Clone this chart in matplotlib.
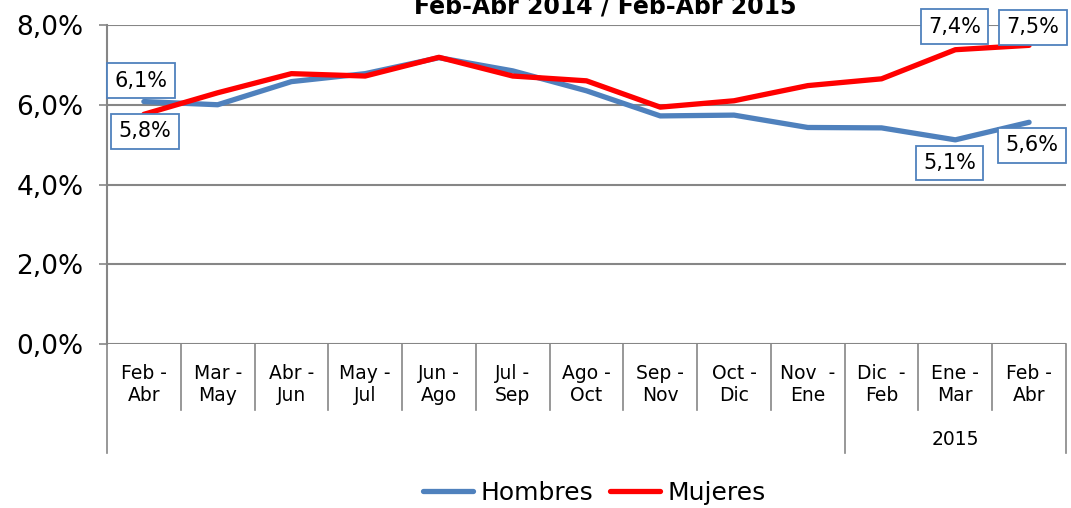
import matplotlib.pyplot as plt
from matplotlib.ticker import FuncFormatter
import matplotlib.transforms as mtransforms

plt.rcParams['font.family'] = ['DejaVu Sans']

# Data
periods = ['Feb -\nAbr', 'Mar -\nMay', 'Abr -\nJun', 'May -\nJul', 'Jun -\nAgo', 'Jul -\nSep',
           'Ago -\nOct', 'Sep -\nNov', 'Oct -\nDic', 'Nov  -\nEne', 'Dic  -\nFeb', 'Ene -\nMar',
           'Feb -\nAbr']
year_groups = [('', 0, 9), ('2015', 10, 12)]
hombres = [6.08, 6.00, 6.58, 6.78, 7.18, 6.85, 6.35, 5.72, 5.74, 5.43, 5.42, 5.12, 5.56]
mujeres = [5.76, 6.30, 6.78, 6.72, 7.19, 6.72, 6.60, 5.94, 6.10, 6.48, 6.65, 7.38, 7.49]
title = 'Feb-Abr 2014 / Feb-Abr 2015'

blue = '#4F81BD'
red = '#FF0000'
grid_col = '#868686'

fig = plt.figure(figsize=(10.71, 5.08), dpi=100)
ax = fig.add_axes([0.0999, 0.3228, 0.8954, 0.628])

x = list(range(len(periods)))
ax.plot(x, hombres, color=blue, lw=3.8, label='Hombres', solid_capstyle='round')
ax.plot(x, mujeres, color=red, lw=3.8, label='Mujeres', solid_capstyle='round')

ax.set_xlim(-0.5, len(periods) - 0.5)
ax.set_ylim(0, 8)
ax.set_yticks([0, 2, 4, 6, 8])
ax.yaxis.set_major_formatter(FuncFormatter(lambda v, p: f'{v:.1f}%'.replace('.', ',')))
ax.tick_params(axis='y', labelsize=19, length=6, width=1.2, color=grid_col, pad=11)
ax.set_xticks([])
ax.grid(axis='y', color=grid_col, lw=1.5)
ax.set_axisbelow(True)
for s in ['top', 'right', 'bottom']:
    ax.spines[s].set_visible(False)
ax.spines['left'].set_color(grid_col)
ax.spines['left'].set_linewidth(1.5)

# category axis
trans = mtransforms.blended_transform_factory(ax.transData, ax.transAxes)
for i, lab in enumerate(periods):
    ax.text(i, -0.128, lab, transform=trans, ha='center', va='center',
            fontsize=13.5, linespacing=1.2, clip_on=False)
long_b = set()
for name, a, b in year_groups:
    long_b.add(a - 0.5)
    long_b.add(b + 0.5)
    if name:
        ax.text((a + b) / 2, -0.30, name, transform=trans, ha='center', va='center',
                fontsize=13.5, clip_on=False)
for i in range(len(periods) + 1):
    xb = i - 0.5
    y_end = -0.342 if xb in long_b else -0.207
    ax.plot([xb, xb], [0, y_end], transform=trans, color=grid_col, lw=1.2, clip_on=False)

# data labels
labels = [(hombres, 0, (-3, 21)), (mujeres, 0, (1, -17)),
          (mujeres, 11, (-1, 23)), (mujeres, 12, (4, 18)),
          (hombres, 11, (-6, -23)), (hombres, 12, (3, -23))]
for series, i, off in labels:
    ax.annotate(f'{series[i]:.1f}%'.replace('.', ','), (i, series[i]), xytext=off,
                textcoords='offset pixels', ha='center', va='center', fontsize=15,
                bbox=dict(boxstyle='square,pad=0.35', fc='white', ec=blue, lw=1.3),
                annotation_clip=False)

fig.text(605 / 1071, 1 - 13 / 508, title, ha='center', va='baseline',
         fontsize=17, fontweight='bold')

fig.legend(loc='center', bbox_to_anchor=(0.555, 0.03), ncol=2, frameon=False,
           fontsize=18, handlelength=2.0, handletextpad=0.3, columnspacing=0.7)

fig.savefig('out.png', dpi=100)
